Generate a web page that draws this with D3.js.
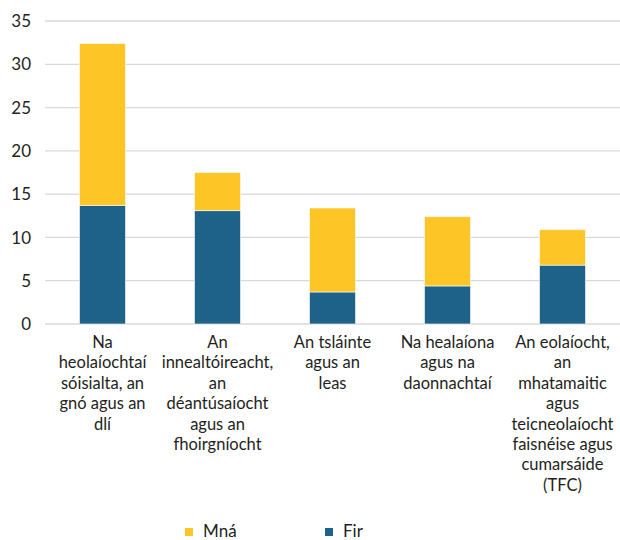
<!DOCTYPE html>
<html>
<head>
<meta charset="utf-8">
<script src="https://cdn.jsdelivr.net/npm/d3@7"></script>
<style>
  body { margin: 0; background: #fff; }
  text { font-family: Lato, "Noto Sans", sans-serif; fill: #231f20; }
</style>
</head>
<body>
<div id="chart"></div>
<script>
// categories, wrapped as in the original
const categories = [
  ["Na", "heolaíochtaí", "sóisialta, an", "gnó agus an", "dlí"],
  ["An", "innealtóireacht,", "an", "déantúsaíocht", "agus an", "fhoirgníocht"],
  ["An tsláinte", "agus an", "leas"],
  ["Na healaíona", "agus na", "daonnachtaí"],
  ["An eolaíocht,", "an", "mhatamaitic", "agus", "teicneolaíocht", "faisnéise agus", "cumarsáide", "(TFC)"]
];
const fir = [13.7, 13.1, 3.7, 4.4, 6.8];
const mna = [18.7, 4.4, 9.7, 8.0, 4.1];
const yTicks = [0, 5, 10, 15, 20, 25, 30, 35];
const seriesNames = ["Mná", "Fir"];
const colors = { "Mná": "#fdc526", "Fir": "#1f6289" };

let W = 620, H = 540,
    margin = { top: 21, right: 0, bottom: 216, left: 45 },
    width = W - margin.left - margin.right,
    height = H - margin.top - margin.bottom;

let svg = d3.select("#chart").append("svg")
    .attr("width", W)
    .attr("height", H);

let g = svg.append("g")
    .attr("transform", "translate(" + margin.left + "," + margin.top + ")");

let x = d3.scaleBand()
    .domain(d3.range(categories.length))
    .range([0, width])
    .paddingInner(0.6)
    .paddingOuter(0.3);

let y = d3.scaleLinear().domain([0, 35]).range([height, 0]);

// gridlines
g.selectAll(".grid")
    .data(yTicks)
    .enter().append("line")
    .attr("x1", 0)
    .attr("x2", width)
    .attr("y1", d => y(d))
    .attr("y2", d => y(d))
    .attr("stroke", "#d9d9d9")
    .attr("stroke-width", 1.3);

// y labels
g.selectAll(".ylab")
    .data(yTicks)
    .enter().append("text")
    .attr("x", -14)
    .attr("y", d => y(d))
    .attr("dy", "0.36em")
    .attr("text-anchor", "end")
    .style("font-size", "17px")
    .text(d => d);

let stackData = categories.map((c, i) => ({ i: i, "Fir": fir[i], "Mná": mna[i] }));
let stack = d3.stack().keys(["Fir", "Mná"])(stackData);

g.selectAll(".series")
    .data(stack)
    .enter().append("g")
    .attr("fill", d => colors[d.key])
    .selectAll("rect")
    .data(d => d)
    .enter().append("rect")
    .attr("x", d => x(d.data.i))
    .attr("y", d => y(d[1]))
    .attr("width", x.bandwidth())
    .attr("height", d => y(d[0]) - y(d[1]))
    .attr("stroke", "#ffffff")
    .attr("stroke-opacity", 0.6)
    .attr("stroke-width", 1);

// category labels
let labels = g.selectAll(".xlab")
    .data(categories)
    .enter().append("text")
    .attr("text-anchor", "middle")
    .attr("transform", (d, i) => "translate(" + (x(i) + x.bandwidth() / 2) + "," + (height + 24) + ")")
    .style("font-size", "16.5px");

labels.selectAll("tspan")
    .data(d => d)
    .enter().append("tspan")
    .attr("x", 0)
    .attr("y", (d, i) => i * 20.4)
    .text(d => d);

// legend
let legendX = [185, 325];
let legend = svg.selectAll(".legend")
    .data(seriesNames)
    .enter().append("g")
    .attr("transform", (d, i) => "translate(" + legendX[i] + "," + 531 + ")");

legend.append("rect")
    .attr("x", 0)
    .attr("y", -3)
    .attr("width", 8)
    .attr("height", 8)
    .attr("fill", d => colors[d]);

legend.append("text")
    .attr("x", 18)
    .attr("dy", "0.36em")
    .style("font-size", "17px")
    .text(d => d);
</script>
</body>
</html>
